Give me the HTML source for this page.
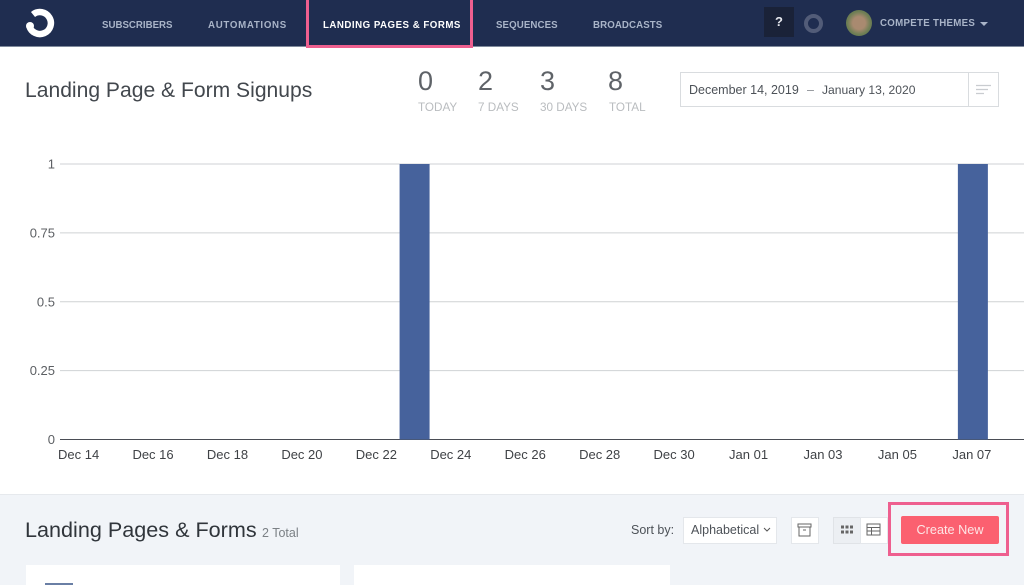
<!DOCTYPE html>
<html lang="en">
<head>
<meta charset="utf-8">
<title>Landing Page &amp; Form Signups</title>
<style>
html,body{margin:0;padding:0;background:#fff}
#page{position:relative;width:1024px;height:585px;overflow:hidden;background:#fff;font-family:"Liberation Sans",Arial,sans-serif;color:#3c4148}
#page div,#page span{position:absolute;white-space:nowrap}
.nav{top:18px;font-size:9.7px;font-weight:bold;color:#a9b4c8;line-height:15px}
.num{top:66px;font-size:27px;line-height:30px;color:#5f6368}
.lab{top:100px;font-size:11.7px;line-height:15px;color:#b9bcbf}
</style>
</head>
<body>
<div id="page">
  <div style="left:0;top:0;width:1024px;height:46px;background:#1f2d50;border-bottom:1px solid #7f8a9c"></div>
  <svg width="32" height="30" style="position:absolute;left:24px;top:8px">
    <path d="M5.3 18 A11 11 0 1 0 9 6.5" fill="none" stroke="#fff" stroke-width="6.5"/>
    <circle cx="6" cy="18" r="4" fill="#fff"/>
  </svg>
  <span class="nav" style="left:102px">SUBSCRIBERS</span>
  <span class="nav" style="left:208px;letter-spacing:.7px">AUTOMATIONS</span>
  <div style="left:306px;top:-3px;width:161px;height:45px;border:3px solid #ee5f8f"></div>
  <span class="nav" style="left:323px;color:#fff;letter-spacing:.5px">LANDING PAGES &amp; FORMS</span>
  <span class="nav" style="left:496px;letter-spacing:.1px">SEQUENCES</span>
  <span class="nav" style="left:593px;letter-spacing:.1px">BROADCASTS</span>
  <div style="left:764px;top:7px;width:30px;height:30px;background:#1a2238;color:#e6e8ee;font-size:13px;font-weight:bold;text-align:center;line-height:30px">?</div>
  <div style="left:804px;top:14px;width:11px;height:11px;border:4px solid #525c78;border-radius:50%"></div>
  <div style="left:846px;top:10px;width:26px;height:26px;border-radius:50%;background:radial-gradient(circle at 50% 50%,#a98a70 0 34%,#6f7f55 62%,#59704a 100%)"></div>
  <span class="nav" style="left:880px;top:16px;letter-spacing:.3px">COMPETE THEMES</span>
  <div style="left:980px;top:22px;width:0;height:0;border-left:4px solid transparent;border-right:4px solid transparent;border-top:4px solid #a9b4c8"></div>

  <div style="left:25px;top:76px;font-size:21.1px;line-height:30px;color:#42474d">Landing Page &amp; Form Signups</div>

  <span class="num" style="left:418px">0</span>
  <span class="lab" style="left:418px">TODAY</span>
  <span class="num" style="left:478px">2</span>
  <span class="lab" style="left:478px">7 DAYS</span>
  <span class="num" style="left:540px">3</span>
  <span class="lab" style="left:540px">30 DAYS</span>
  <span class="num" style="left:608px">8</span>
  <span class="lab" style="left:609px">TOTAL</span>

  <div style="left:680px;top:72px;width:317px;height:33px;border:1px solid #d9dcdf;background:#fff"></div>
  <span style="left:689px;top:83px;font-size:12.5px;line-height:15px;color:#4d5258">December 14, 2019</span>
  <span style="left:807px;top:83px;font-size:12.5px;line-height:15px;color:#8b8f94">–</span>
  <span style="left:822px;top:83px;font-size:12.1px;line-height:15px;color:#4d5258">January 13, 2020</span>
  <div style="left:968px;top:73px;width:1px;height:33px;background:#d9dcdf"></div>
  <svg width="18" height="12" style="position:absolute;left:975px;top:84px">
    <path d="M1 1.5H16M1 5.5H13M1 9.5H9" stroke="#c9ccd0" stroke-width="1.2" fill="none"/>
  </svg>

  <svg id="chart" width="1024" height="330" style="position:absolute;left:0;top:150px;font-family:'Liberation Sans',Arial,sans-serif"></svg>

  <div style="left:0;top:494px;width:1024px;height:91px;background:#f1f4f8;border-top:1px solid #e6e9ed"></div>
  <div style="left:25px;top:515px;font-size:21.6px;line-height:30px;color:#30353b">Landing Pages &amp; Forms</div>
  <span style="left:262px;top:526px;font-size:12.5px;line-height:15px;color:#7b8085">2 Total</span>
  <span style="left:631px;top:523px;font-size:12.5px;line-height:15px;color:#4d5258">Sort by:</span>
  <div style="left:683px;top:517px;width:92px;height:25px;background:#fff;border:1px solid #e4e7eb;font-size:12.5px;line-height:25px;color:#4d5258;text-indent:7px">Alphabetical</div>
  <svg width="8" height="6" style="position:absolute;left:763px;top:527px"><path d="M1 1L4 4L7 1" fill="none" stroke="#555" stroke-width="1"/></svg>
  <div style="left:791px;top:517px;width:26px;height:25px;background:#fff;border:1px solid #e4e7eb"></div>
  <svg width="16" height="14" style="position:absolute;left:797px;top:523px"><path d="M1 1H14V4H1ZM2 4V13H13V4M6 7H9" fill="none" stroke="#666" stroke-width="1"/></svg>
  <div style="left:833px;top:517px;width:26px;height:25px;background:#eceff3;border:1px solid #e0e3e7"></div>
  <svg width="14" height="10" style="position:absolute;left:840px;top:525px"><path d="M1 2H4M5.5 2H8.5M10 2H13M1 7H4M5.5 7H8.5M10 7H13" stroke="#666" stroke-width="3" fill="none"/></svg>
  <div style="left:860px;top:517px;width:26px;height:25px;background:#fff;border:1px solid #e4e7eb"></div>
  <svg width="15" height="13" style="position:absolute;left:866px;top:523px"><path d="M1 1H14V12H1ZM1 4.5H14M1 8H14M5.5 4.5V12" fill="none" stroke="#666" stroke-width="1"/></svg>
  <div style="left:888px;top:502px;width:115px;height:48px;border:3px solid #ee5f8f"></div>
  <div style="left:901px;top:516px;width:98px;height:28px;background:#fb6070;border-radius:2px;color:#fde6e6;font-size:12.7px;line-height:28px;text-align:center">Create New</div>
  <div style="left:26px;top:565px;width:314px;height:30px;background:#fff"></div>
  <div style="left:45px;top:583px;width:28px;height:4px;background:#6a7fa5"></div>
  <div style="left:354px;top:565px;width:316px;height:30px;background:#fff"></div>
</div>
<script>
const categories = ["Dec 14","Dec 15","Dec 16","Dec 17","Dec 18","Dec 19","Dec 20","Dec 21","Dec 22","Dec 23","Dec 24","Dec 25","Dec 26","Dec 27","Dec 28","Dec 29","Dec 30","Dec 31","Jan 01","Jan 02","Jan 03","Jan 04","Jan 05","Jan 06","Jan 07","Jan 08","Jan 09","Jan 10","Jan 11","Jan 12","Jan 13"];
const signups = [0,0,0,0,0,0,0,0,0,1,0,0,0,0,0,0,0,0,0,0,0,0,0,0,1,0,0,0,0,0,0];
const xTickLabels = ["Dec 14","Dec 16","Dec 18","Dec 20","Dec 22","Dec 24","Dec 26","Dec 28","Dec 30","Jan 01","Jan 03","Jan 05","Jan 07"];
const yTicks = [0,0.25,0.5,0.75,1];

const NS = "http://www.w3.org/2000/svg";
const svg = document.getElementById("chart");
const yMax = 1;
const xAxis = i => 78.6 + i * 37.22;
const yAxis = v => 289.5 - (v / yMax) * 275.5;
const barWidth = 30;

function make(tag, attrs, text) {
  const el = document.createElementNS(NS, tag);
  for (const k in attrs) el.setAttribute(k, attrs[k]);
  if (text !== undefined) el.textContent = text;
  svg.appendChild(el);
  return el;
}

yTicks.forEach(t => {
  const line = make("line", {x1: 60, x2: 1024, y1: yAxis(t), y2: yAxis(t), stroke: t === 0 ? "#4a4d55" : "#cfd2d4", "stroke-width": 1});
  
  
  const label = make("text", {x: 55, y: yAxis(t) + 4.5, "text-anchor": "end", "font-size": 13, fill: "#5c5f63"}, String(t));
  
  
});

signups.forEach((v, i) => {
  if (v <= 0) return;
  const bar = make("rect", {x: xAxis(i) - barWidth / 2 + 1, y: yAxis(v), width: barWidth, height: yAxis(0) - yAxis(v), fill: "#46629c"});
  
  
});

xTickLabels.forEach(name => {
  const label = make("text", {x: xAxis(categories.indexOf(name)), y: 309, "text-anchor": "middle", "font-size": 13, fill: "#3f4246"}, name);
  
  
});
</script>
</body>
</html>
